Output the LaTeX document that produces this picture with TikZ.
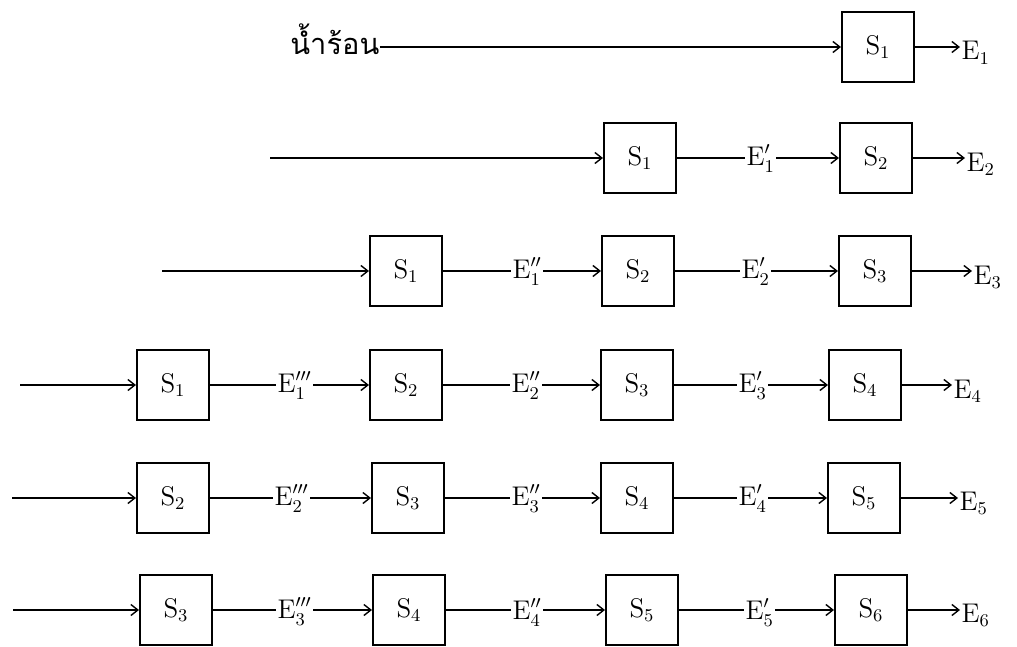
\documentclass[tikz,border=0pt]{standalone}
\usepackage{fontspec}
\newfontfamily\thaifont[Script=Thai]{Loma}
\usetikzlibrary{arrows.meta}
\begin{document}
\begin{tikzpicture}[x=0.5pt,y=-0.5pt,
  box/.style={draw,line width=1pt,minimum width=36pt,minimum height=35pt,inner sep=0pt,font=\fontsize{13.5}{15}\selectfont},
  lab/.style={inner sep=0.6pt,anchor=base west,font=\fontsize{13.5}{15}\selectfont},
  conn/.style={line width=0.7pt},
  arr/.style={conn,-{Straight Barb[length=3.5pt,width=5.5pt]}}]
\useasboundingbox (0,0) rectangle (1017,647);

% Row 1
\node[anchor=base west,inner sep=0pt,font=\thaifont\fontsize{14.5}{16}\selectfont] (hot) at (290,55) {น้ำร้อน};
\node[box] (r1d) at (878,47) {$\mathrm{S}_1$};
\node[lab] (r1o) at (960,60) {$\mathrm{E}_1$};
\draw[arr] (hot.east |- r1d.west) -- (r1d.west);
\draw[arr] (r1d.east) -- (r1d.east -| r1o.west);

% Row 2
\coordinate (r2in) at (270,158);
\node[box] (r2c) at (640,158) {$\mathrm{S}_1$};
\node[lab] (r2e3) at (745,165) {$\mathrm{E}^{\prime}_{1}$};
\node[box] (r2d) at (876,158) {$\mathrm{S}_2$};
\node[lab] (r2o) at (965,171) {$\mathrm{E}_2$};
\draw[arr] (r2in) -- (r2c.west);
\draw[conn] (r2c.east) -- (r2c.east -| r2e3.west);
\draw[arr] (r2e3.east |- r2d.west) -- (r2d.west);
\draw[arr] (r2d.east) -- (r2d.east -| r2o.west);

% Row 3
\coordinate (r3in) at (162,271);
\node[box] (r3b) at (406,271) {$\mathrm{S}_1$};
\node[lab] (r3e2) at (511,278) {$\mathrm{E}^{\prime\prime}_{1}$};
\node[box] (r3c) at (638,271) {$\mathrm{S}_2$};
\node[lab] (r3e3) at (740,278) {$\mathrm{E}^{\prime}_{2}$};
\node[box] (r3d) at (875,271) {$\mathrm{S}_3$};
\node[lab] (r3o) at (972,284) {$\mathrm{E}_3$};
\draw[arr] (r3in) -- (r3b.west);
\draw[conn] (r3b.east) -- (r3b.east -| r3e2.west);
\draw[arr] (r3e2.east |- r3c.west) -- (r3c.west);
\draw[conn] (r3c.east) -- (r3c.east -| r3e3.west);
\draw[arr] (r3e3.east |- r3d.west) -- (r3d.west);
\draw[arr] (r3d.east) -- (r3d.east -| r3o.west);

% Row 4
\coordinate (r4in) at (20,385);
\node[box] (r4a) at (173,385) {$\mathrm{S}_1$};
\node[lab] (r4e1) at (276,392) {$\mathrm{E}^{\prime\prime\prime}_{1}$};
\node[box] (r4b) at (406,385) {$\mathrm{S}_2$};
\node[lab] (r4e2) at (510,392) {$\mathrm{E}^{\prime\prime}_{2}$};
\node[box] (r4c) at (637,385) {$\mathrm{S}_3$};
\node[lab] (r4e3) at (737,392) {$\mathrm{E}^{\prime}_{3}$};
\node[box] (r4d) at (865,385) {$\mathrm{S}_4$};
\node[lab] (r4o) at (952,398) {$\mathrm{E}_4$};
\draw[arr] (r4in) -- (r4a.west);
\draw[conn] (r4a.east) -- (r4a.east -| r4e1.west);
\draw[arr] (r4e1.east |- r4b.west) -- (r4b.west);
\draw[conn] (r4b.east) -- (r4b.east -| r4e2.west);
\draw[arr] (r4e2.east |- r4c.west) -- (r4c.west);
\draw[conn] (r4c.east) -- (r4c.east -| r4e3.west);
\draw[arr] (r4e3.east |- r4d.west) -- (r4d.west);
\draw[arr] (r4d.east) -- (r4d.east -| r4o.west);

% Row 5
\coordinate (r5in) at (12,498);
\node[box] (r5a) at (173,498) {$\mathrm{S}_2$};
\node[lab] (r5e1) at (273,505) {$\mathrm{E}^{\prime\prime\prime}_{2}$};
\node[box] (r5b) at (408,498) {$\mathrm{S}_3$};
\node[lab] (r5e2) at (510,505) {$\mathrm{E}^{\prime\prime}_{3}$};
\node[box] (r5c) at (637,498) {$\mathrm{S}_4$};
\node[lab] (r5e3) at (737,505) {$\mathrm{E}^{\prime}_{4}$};
\node[box] (r5d) at (864,498) {$\mathrm{S}_5$};
\node[lab] (r5o) at (958,510) {$\mathrm{E}_5$};
\draw[arr] (r5in) -- (r5a.west);
\draw[conn] (r5a.east) -- (r5a.east -| r5e1.west);
\draw[arr] (r5e1.east |- r5b.west) -- (r5b.west);
\draw[conn] (r5b.east) -- (r5b.east -| r5e2.west);
\draw[arr] (r5e2.east |- r5c.west) -- (r5c.west);
\draw[conn] (r5c.east) -- (r5c.east -| r5e3.west);
\draw[arr] (r5e3.east |- r5d.west) -- (r5d.west);
\draw[arr] (r5d.east) -- (r5d.east -| r5o.west);

% Row 6
\coordinate (r6in) at (13,610);
\node[box] (r6a) at (176,610) {$\mathrm{S}_3$};
\node[lab] (r6e1) at (276,618) {$\mathrm{E}^{\prime\prime\prime}_{3}$};
\node[box] (r6b) at (409,610) {$\mathrm{S}_4$};
\node[lab] (r6e2) at (511,619) {$\mathrm{E}^{\prime\prime}_{4}$};
\node[box] (r6c) at (642,610) {$\mathrm{S}_5$};
\node[lab] (r6e3) at (744,619) {$\mathrm{E}^{\prime}_{5}$};
\node[box] (r6d) at (871,610) {$\mathrm{S}_6$};
\node[lab] (r6o) at (960,622) {$\mathrm{E}_6$};
\draw[arr] (r6in) -- (r6a.west);
\draw[conn] (r6a.east) -- (r6a.east -| r6e1.west);
\draw[arr] (r6e1.east |- r6b.west) -- (r6b.west);
\draw[conn] (r6b.east) -- (r6b.east -| r6e2.west);
\draw[arr] (r6e2.east |- r6c.west) -- (r6c.west);
\draw[conn] (r6c.east) -- (r6c.east -| r6e3.west);
\draw[arr] (r6e3.east |- r6d.west) -- (r6d.west);
\draw[arr] (r6d.east) -- (r6d.east -| r6o.west);
\end{tikzpicture}
\end{document}
